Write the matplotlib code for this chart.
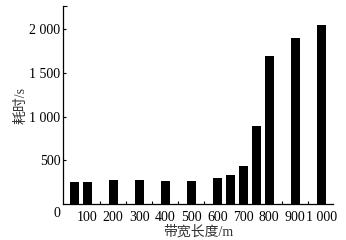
import matplotlib.pyplot as plt

# 数据
lengths = [50, 100, 200, 300, 400, 500, 600, 650, 700, 750, 800, 900, 1000]
times = [251, 259, 274, 274, 267, 263, 301, 339, 434, 895, 1686, 1895, 2047]

x_labels = [100, 200, 300, 400, 500, 600, 700, 800, 900, 1000]
x_label_text = ['100', '200', '300', '400', '500', '600', '700', '800', '900', '1 000']
y_ticks = [500, 1000, 1500, 2000]
y_tick_text = ['500', '1 000', '1 500', '2 000']

serif = ['Liberation Serif', 'Noto Sans CJK SC']
plt.rcParams['font.family'] = serif

fig = plt.figure(figsize=(3.46, 2.40), dpi=100)
ax = fig.add_axes([0.183, 0.149, 0.779, 0.826])

ax.bar(lengths, times, width=34, color='black')

ax.set_xlim(8, 1045)
ax.set_ylim(0, 2260)

# x: 标签在整百处，无刻度线；短刻度在中间
ax.set_xticks(x_labels)
ax.set_xticklabels(x_label_text, fontsize=10)
ax.tick_params(axis='x', which='major', length=0, pad=5)
ax.set_xticks([150, 250, 350, 450, 550, 650, 750, 850, 950], minor=True)
ax.tick_params(axis='x', which='minor', direction='in', length=2.5, width=0.8)

ax.set_yticks(y_ticks)
ax.set_yticklabels(y_tick_text, fontsize=10)
ax.tick_params(axis='y', which='major', direction='in', length=2.5, width=0.8, pad=2)
ax.set_yticks([2260], minor=True)
ax.tick_params(axis='y', which='minor', direction='in', length=3, width=0.8)

for s in ['top', 'right']:
    ax.spines[s].set_visible(False)
for s in ['left', 'bottom']:
    ax.spines[s].set_linewidth(0.9)

ax.text(-0.025, -0.045, '0', transform=ax.transAxes, fontsize=10,
        ha='center', va='center')

ax.set_xlabel('带宽长度/m', fontsize=10, color='#333333', labelpad=1)
ax.set_ylabel('耗时/s', fontsize=10, color='#333333', labelpad=1)

fig.savefig('out.png', dpi=100)
